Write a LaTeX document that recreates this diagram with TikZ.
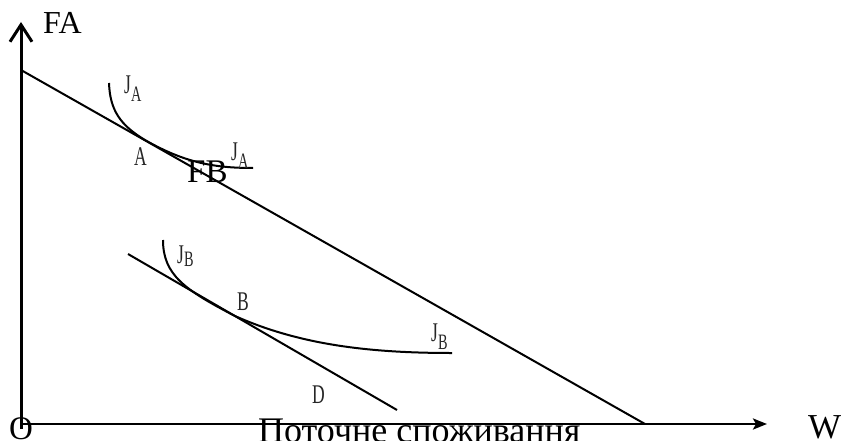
\documentclass[tikz,border=0pt]{standalone}
\usepackage{fontspec}
\setmainfont{Liberation Serif}
\newfontfamily\condfont[FakeStretch=0.65]{Liberation Serif}
\usetikzlibrary{arrows.meta}
\newcommand\JsubX[2]{J\raisebox{-#2pt}{\fontsize{22}{22}\selectfont #1}}
\begin{document}
\begin{tikzpicture}[x=1pt,y=-1pt,
  lbl/.style={inner sep=0pt, anchor=base west, font=\condfont\fontsize{27}{27}\selectfont, text=black!85},
  big/.style={inner sep=0pt, anchor=base west, font=\fontsize{33}{33}\selectfont},
  vaxis/.style={line width=3pt, -{Straight Barb[length=17pt,width=22pt]}},
  haxis/.style={line width=2.5pt, -{Stealth[length=14pt,width=11pt,inset=3pt]}},
  ln/.style={line width=2pt},
  crv/.style={line width=2pt}]
\useasboundingbox (0,0) rectangle (850,441);
% axes
\coordinate (O) at (21,429);
\coordinate (Ox) at (21,424);
\coordinate (ytop) at (21,22);
\coordinate (xend) at (767,424);
\draw[vaxis] (O) -- (ytop);
\draw[haxis] (Ox) -- (xend);
% budget lines
\coordinate (b1) at (21,70);
\coordinate (b2) at (645,424);
\draw[ln] (b1) -- (b2);
\coordinate (d1) at (128,254);
\coordinate (d2) at (397,410);
\draw[ln] (d1) -- (d2);
% indifference curves
\coordinate (ja1) at (109,83);
\coordinate (A) at (145,140);
\coordinate (ja2) at (253,168);
\draw[crv] (ja1) .. controls (110,110) and (120,125) .. (A)
  .. controls (185,163) and (215,168) .. (ja2);
\coordinate (jb1) at (163,240);
\coordinate (B) at (235,316);
\coordinate (jb2) at (452,353);
\draw[crv] (jb1) .. controls (163,275) and (185,290) .. (B)
  .. controls (300,345) and (370,353) .. (jb2);
% labels
\node[lbl] (lJA1) at (124,94) {\JsubX{A}{8}};
\node[lbl] (lA) at (134,165) {A};
\node[lbl] (lJA2) at (231,160) {\JsubX{A}{8}};
\node[big] (lFB) at (187,182) {FB};
\node[lbl] (lJB1) at (177,263) {\JsubX{B}{3}};
\node[lbl] (lB) at (237,310) {B};
\node[lbl] (lJB2) at (431,341) {\JsubX{B}{8}};
\node[lbl] (lD) at (312,403) {D};
\node[big, font=\fontsize{32}{32}\selectfont] (lFA) at (43,34) {FA};
\node[big, anchor=base] (lO) at (21,439) {O};
\node[big, font=\fontsize{35}{35}\selectfont] (lW) at (808,438) {W};
\node[big, font=\fontsize{36}{36}\selectfont] (lX) at (258,442) {Поточне споживання};
\end{tikzpicture}
\end{document}
